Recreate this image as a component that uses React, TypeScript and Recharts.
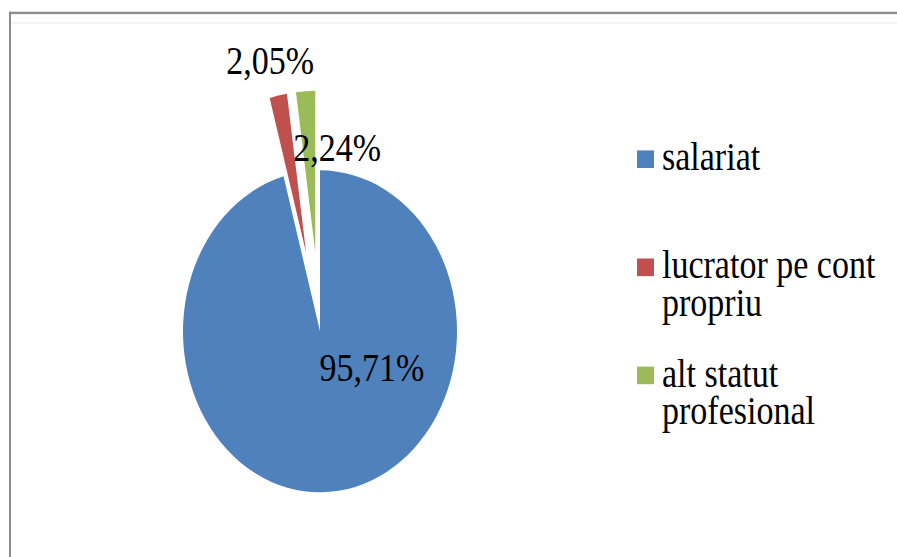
import { PieChart, Pie, Cell, Legend } from 'recharts';

const categories = ['salariat', 'lucrator pe cont propriu', 'alt statut profesional'];
const shares = [95.71, 2.05, 2.24];
const colors = ['#4F81BD', '#C0504D', '#9BBB59'];

// how far each slice is pulled out of the pie
const explode = [0, 68, 68];
// label placement relative to the slice's own centre
const labelOffsets = [
  { dx: 52, dy: 31 },
  { dx: -36, dy: -164 },
  { dx: 22, dy: -89 },
];

const W = 897;
const H = 557;
const STRETCH = 1.175; // the original image is stretched vertically
const CH = H / STRETCH;
const CX = 320;
const CY = 282;
const R = 137;
const FONT = 'Liberation Serif, Tinos, DejaVu Serif, serif';

const data = categories.map((name, i) => ({ name, value: shares[i] }));
const total = shares.reduce((a, b) => a + b, 0);

function sliceCentre(i: number) {
  const before = shares.slice(0, i).reduce((a, b) => a + b, 0);
  const mid = 90 - ((before + shares[i] / 2) / total) * 360;
  const rad = (mid * Math.PI) / 180;
  return { x: CX + explode[i] * Math.cos(rad), y: CY - explode[i] * Math.sin(rad) };
}

const fmt = (v: number) => v.toFixed(2).replace('.', ',') + '%';

function renderLegend() {
  return (
    <div style={{ fontFamily: FONT, fontSize: 34, lineHeight: '31.5px', color: '#000' }}>
      {categories.map((name, i) => (
        <div key={name} style={{ display: 'flex', alignItems: 'flex-start', height: 92 }}>
          <div style={{ width: 17, height: 14.5, marginTop: 10, marginRight: 8, background: colors[i], flex: 'none' }} />
          <div style={{ width: 222 }}>{name}</div>
        </div>
      ))}
    </div>
  );
}

export default function App() {
  return (
    <div style={{ position: 'absolute', left: 0, top: 0, width: W, height: H, overflow: 'hidden', background: '#fff' }}>
      <div style={{ position: 'relative', width: W, height: CH, transform: `scaleY(${STRETCH})`, transformOrigin: '0 0' }}>
        <div style={{ position: 'absolute', left: 9, top: 10, width: 920, height: 500, borderTop: '2px solid #8c8c8c', borderLeft: '2px solid #8c8c8c' }} />
        <div style={{ position: 'absolute', left: 11, top: 19, width: 900, height: 1, background: '#eeeeee' }} />
        <div style={{ position: 'absolute', left: 0, top: 0 }}>
          <PieChart width={W} height={CH} margin={{ top: 0, right: 0, bottom: 0, left: 0 }}>
            {categories.map((cat, k) => {
              const c = sliceCentre(k);
              return (
                <Pie
                  key={cat}
                  data={data}
                  dataKey="value"
                  nameKey="name"
                  cx={c.x}
                  cy={c.y}
                  outerRadius={R}
                  startAngle={90}
                  endAngle={-270}
                  stroke="none"
                  labelLine={false}
                  isAnimationActive={false}
                  label={(p: any) => {
                    if (p.name !== cat) return null;
                    const off = labelOffsets[k];
                    return (
                      <text
                        x={p.cx + off.dx}
                        y={p.cy + off.dy}
                        textAnchor="middle"
                        dominantBaseline="central"
                        style={{ fontFamily: FONT }}
                        fontSize={34}
                        fill="#000"
                      >
                        {fmt(p.value)}
                      </text>
                    );
                  }}
                >
                  {data.map((d, i) => (
                    <Cell key={d.name} fill={i === k ? colors[i] : 'transparent'} stroke="none" />
                  ))}
                </Pie>
              );
            })}
            <Legend content={renderLegend} wrapperStyle={{ left: 637, top: 118, width: 260 }} />
          </PieChart>
        </div>
      </div>
    </div>
  );
}
